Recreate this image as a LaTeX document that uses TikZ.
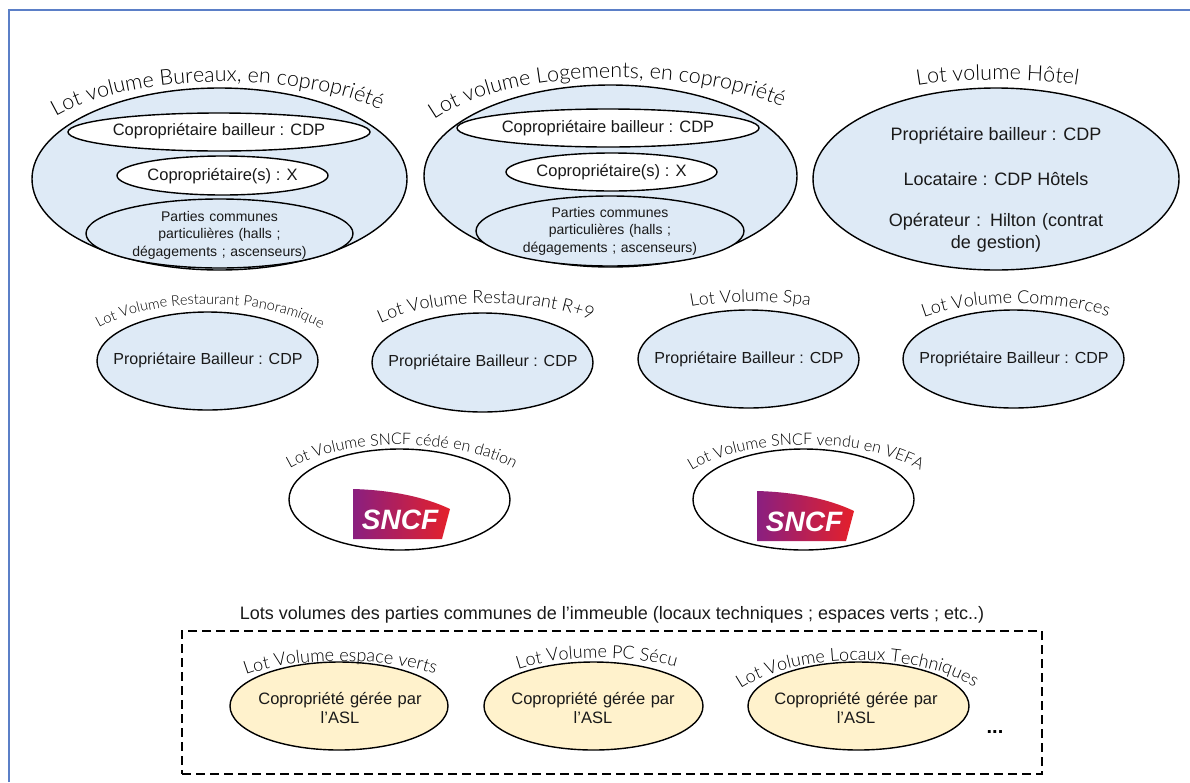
\documentclass[tikz,border=0pt]{standalone}
\usepackage{fontspec}
\setmainfont{Liberation Sans}
\newfontfamily\lotfont{Lato Light}
\usetikzlibrary{shapes.geometric,decorations.text}

\definecolor{lotblue}{HTML}{DEEAF6}
\definecolor{lotyellow}{HTML}{FFF2CC}
\definecolor{frameblue}{HTML}{5B7FC7}
\definecolor{sncfpurple}{HTML}{8A1F80}
\definecolor{sncfmid}{HTML}{B8186F}
\definecolor{sncfred}{HTML}{E5202A}

\tikzset{
  lot/.style={ellipse,draw=black,line width=1.4pt,inner sep=0pt},
  lottxt/.style={font=\fontsize{#1}{#1}\selectfont,align=center,inner sep=0pt,text=black!90},
  lottxt/.default=16.5
}

% size, text, then the curve the title runs along
\newcommand{\lottitle}[3]{%
  \path[decorate,decoration={text along path,text align=center,
    text={|\lotfont\fontsize{#1}{#1}\selectfont|#2}}] #3;}

\newcommand{\sncflogo}[3]{%
  \begin{scope}[shift={(#2,#3)}]
    \shade[left color=sncfpurple,middle color=sncfmid,right color=sncfred]
      (0,0) .. controls (38,1) and (72,8) .. (97,20) -- (89,50) -- (0,50) -- cycle;
    \node[font=\fontsize{28}{28}\selectfont\bfseries\itshape,text=white,inner sep=0pt] (#1) at (47,31) {SNCF};
  \end{scope}}

\begin{document}
\begin{tikzpicture}[x=1pt,y=-1pt]
  \useasboundingbox (0,0) rectangle (1190,782);
  \draw[frameblue,line width=1.2pt] (9,782) |- (1190,10);

  % Top row
  \node[lot,fill=lotblue,minimum width=375,minimum height=182] (bureaux) at (219.5,179) {};
  \node[lot,fill=white,minimum width=302,minimum height=38] (bureauxA) at (219,132) {};
  \node[lot,fill=white,minimum width=211,minimum height=39] (bureauxB) at (222.5,175.5) {};
  \node[lot,fill=lotblue,minimum width=267,minimum height=69] (bureauxC) at (219.5,233.5) {};
  \node[lottxt] (bureauxAt) at (219,131.5) {Copropriétaire bailleur : CDP};
  \node[lottxt] (bureauxBt) at (222.5,176) {Copropriétaire(s) : X};
  \node[lottxt=14,text width=200,font=\fontsize{14}{17.5}\selectfont] (bureauxCt) at (219.5,235) {Parties communes\\particulières (halls ;\\dégagements ; ascenseurs)};
  \lottitle{21.5}{Lot volume Bureaux, en copropriété}{(53,118) .. controls (130,71) and (300,71) .. (383,111)}

  \node[lot,fill=lotblue,minimum width=373,minimum height=182] (logements) at (610.5,176) {};
  \node[lot,fill=white,minimum width=302,minimum height=38] (logementsA) at (608,128) {};
  \node[lot,fill=white,minimum width=211,minimum height=38] (logementsB) at (611.5,172) {};
  \node[lot,fill=lotblue,minimum width=268,minimum height=70] (logementsC) at (610,231) {};
  \node[lottxt] (logementsAt) at (608,128) {Copropriétaire bailleur : CDP};
  \node[lottxt] (logementsBt) at (611.5,172) {Copropriétaire(s) : X};
  \node[lottxt=14,text width=200,font=\fontsize{14}{17.5}\selectfont] (logementsCt) at (610,231) {Parties communes\\particulières (halls ;\\dégagements ; ascenseurs)};
  \lottitle{21.5}{Lot volume Logements, en copropriété}{(430,123) .. controls (505,66) and (690,65) .. (787,109)}

  \node[lot,fill=lotblue,minimum width=366,minimum height=182] (hotel) at (996,179) {};
  \node[lottxt=18] (hotelA) at (996,135.5) {Propriétaire bailleur : CDP};
  \node[lottxt=18] (hotelB) at (996,179) {Locataire : CDP Hôtels};
  \node[lottxt=18,text width=240,font=\fontsize{18}{22}\selectfont] (hotelC) at (996,232.5) {Opérateur : Hilton (contrat\\de gestion)};
  \lottitle{21.5}{Lot volume Hôtel}{(915,86) .. controls (960,78) and (1035,78) .. (1080,85)}

  % Second row
  \node[lot,fill=lotblue,minimum width=221,minimum height=98] (panoramique) at (207.5,361) {};
  \node[lot,fill=lotblue,minimum width=221,minimum height=99] (neuf) at (482.5,362.5) {};
  \node[lot,fill=lotblue,minimum width=221,minimum height=98] (spa) at (748.5,359) {};
  \node[lot,fill=lotblue,minimum width=221,minimum height=98] (commerces) at (1013.5,359) {};
  \foreach \lotname/\lotx/\loty in {panoramique/208/360.5,neuf/483/362.5,spa/749/359.5,commerces/1014/359.5}
    \node[lottxt=16] (\lotname t) at (\lotx,\loty) {Propriétaire Bailleur : CDP};
  \lottitle{14.5}{Lot Volume Restaurant Panoramique}{(94,331) .. controls (150,295) and (270,295) .. (326,332)}
  \lottitle{18}{Lot Volume Restaurant R+9}{(375,326) .. controls (430,296) and (540,296) .. (597,323)}
  \lottitle{17.5}{Lot Volume Spa}{(686,308) .. controls (720,300) and (780,300) .. (815,307)}
  \lottitle{18}{Lot Volume Commerces}{(918,320) .. controls (970,298) and (1060,298) .. (1114,319)}

  % SNCF
  \node[lot,minimum width=221,minimum height=101] (dation) at (399.5,499.5) {};
  \node[lot,minimum width=221,minimum height=101] (vefa) at (803.5,499.5) {};
  \sncflogo{sncfA}{353}{489}
  \sncflogo{sncfB}{757}{491}
  \lottitle{16}{Lot Volume SNCF cédé en dation}{(286,471) .. controls (340,436) and (460,436) .. (518,471)}
  \lottitle{16}{Lot Volume SNCF vendu en VEFA}{(690,472) .. controls (744,436) and (864,436) .. (922,471)}

  % Parties communes
  \node[lottxt=18] (communes) at (612,614.5) {Lots volumes des parties communes de l’immeuble (locaux techniques ; espaces verts ; etc..)};
  \node[draw=black,dash pattern=on 9pt off 5pt,line width=1.4pt,minimum width=860,minimum height=143,inner sep=0pt] (cadre) at (612,702.5) {};
  \node[lot,fill=lotyellow,minimum width=218,minimum height=88] (verts) at (339,706) {};
  \node[lot,fill=lotyellow,minimum width=219,minimum height=88] (secu) at (593.5,706) {};
  \node[lot,fill=lotyellow,minimum width=221,minimum height=88] (locaux) at (858.5,706) {};
  \foreach \lotname/\lotx in {verts/340,secu/593,locaux/856}
    \node[lottxt=16.5,text width=180,font=\fontsize{16.5}{19.5}\selectfont] (\lotname t) at (\lotx,708) {Copropriété gérée par\\l'ASL};
  \lottitle{18}{Lot Volume espace verts}{(241,677) .. controls (290,656) and (390,656) .. (440,676)}
  \lottitle{18}{Lot Volume PC Sécu}{(513,671) .. controls (555,654) and (640,654) .. (681,669)}
  \lottitle{18}{Lot Volume Locaux Techniques}{(735,693) .. controls (790,650) and (925,650) .. (980,691)}
  \node[font=\fontsize{20}{20}\selectfont\bfseries,inner sep=0pt] (suite) at (995,732) {...};
\end{tikzpicture}
\end{document}
